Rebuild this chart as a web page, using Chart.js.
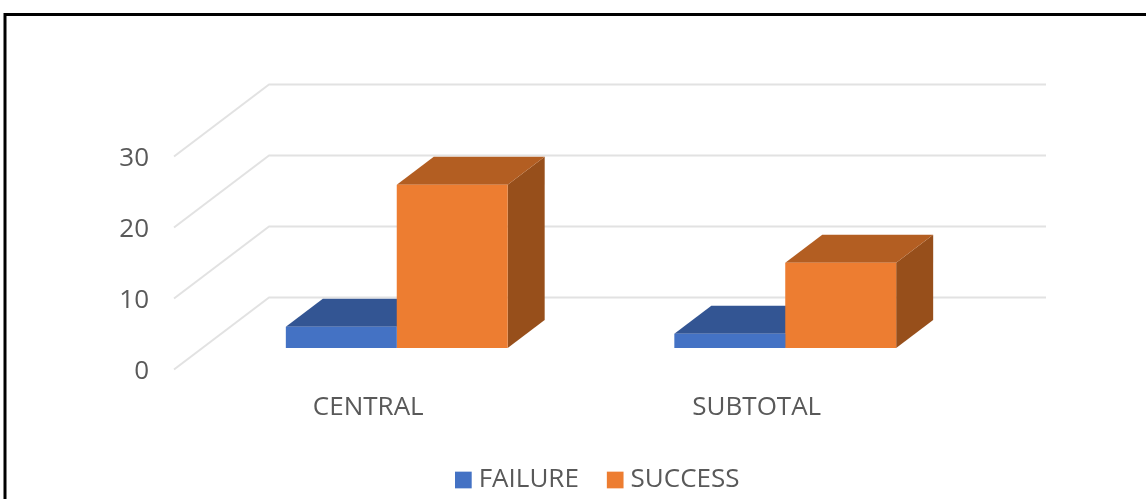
<!DOCTYPE html>
<html>
<head>
<meta charset="utf-8">
<script src="https://cdn.jsdelivr.net/npm/chart.js@4/dist/chart.umd.min.js"></script>
<style>
html,body{margin:0;padding:0;background:#fff;overflow:hidden}
canvas{display:block;filter:blur(0.6px)}
</style>
</head>
<body>
<canvas id="c" width="1146" height="499"></canvas>
<script>
const categories = ["CENTRAL", "SUBTOTAL"];
const failureValues = [3, 2];
const successValues = [23, 12];
const yTicks = [0, 10, 20, 30];

const FONT = "'Open Sans'";
const TEXT = "#595959";
const WALL = { dx: 95, dy: -72 };      // depth of the floor/left wall
const BAR_OFFSET = { dx: 28.5, dy: -21.5 }; // bars stand mid-floor
const BAR_DEPTH = { dx: 37, dy: -28 };
const shades = {
  FAILURE: { top: "#335593", side: "#2a4675" },
  SUCCESS: { top: "#B35E22", side: "#974F1B" }
};

const scene3d = {
  id: "scene3d",
  beforeDraw(chart) {
    const c = chart.ctx;
    c.save();
    c.fillStyle = "#fff";
    c.fillRect(0, 0, chart.width, chart.height);
    c.strokeStyle = "#000";
    c.lineWidth = 3;
    c.beginPath();
    c.moveTo(5, 510);
    c.lineTo(5, 14.5);
    c.lineTo(1160, 14.5);
    c.stroke();
    c.restore();
  },
  beforeDatasetsDraw(chart) {
    const c = chart.ctx;
    const { x: xs, y: ys } = chart.scales;
    c.save();
    c.strokeStyle = "#E2E2E2";
    c.lineWidth = 2;
    c.lineJoin = "round";
    yTicks.forEach(v => {
      const y = ys.getPixelForValue(v);
      c.beginPath();
      c.moveTo(xs.left, y);
      c.lineTo(xs.left + WALL.dx, y + WALL.dy);
      c.lineTo(xs.right + WALL.dx, y + WALL.dy);
      c.stroke();
    });
    c.translate(BAR_OFFSET.dx, BAR_OFFSET.dy);
    chart.data.datasets.forEach((ds, i) => {
      const s = shades[ds.label];
      chart.getDatasetMeta(i).data.forEach(b => {
        const l = b.x - b.width / 2, r = b.x + b.width / 2;
        const t = b.y, bt = b.base;
        c.fillStyle = s.side;
        c.beginPath();
        c.moveTo(r, t); c.lineTo(r + BAR_DEPTH.dx, t + BAR_DEPTH.dy);
        c.lineTo(r + BAR_DEPTH.dx, bt + BAR_DEPTH.dy); c.lineTo(r, bt);
        c.closePath(); c.fill();
        c.fillStyle = s.top;
        c.beginPath();
        c.moveTo(l, t); c.lineTo(l + BAR_DEPTH.dx, t + BAR_DEPTH.dy);
        c.lineTo(r + BAR_DEPTH.dx, t + BAR_DEPTH.dy); c.lineTo(r, t);
        c.closePath(); c.fill();
      });
    });
    // the library's own bars follow, shifted onto the mid-floor plane
  },
  afterDatasetsDraw(chart) {
    chart.ctx.restore();
  },
  afterLayout(chart) {
    const lg = chart.legend;
    const pad = lg.options.labels.padding;
    lg.left = 461 - pad;
    lg.right = 1120;
    lg.top = 467 - pad;
    lg.bottom = lg.top + lg.height;
  }
};

new Chart(document.getElementById("c"), {
  type: "bar",
  plugins: [scene3d],
  data: {
    labels: categories,
    datasets: [
      { label: "FAILURE", data: failureValues, backgroundColor: "#4472C4", borderWidth: 0, clip: false,
        barPercentage: 1, categoryPercentage: 0.571 },
      { label: "SUCCESS", data: successValues, backgroundColor: "#ED7D31", borderWidth: 0, clip: false,
        barPercentage: 1, categoryPercentage: 0.571 }
    ]
  },
  options: {
    responsive: false,
    animation: false,
    layout: { padding: { left: 0, right: 195, top: 156.5, bottom: 0 } },
    plugins: {
      tooltip: { enabled: false },
      legend: {
        position: "bottom",
        align: "start",
        labels: {
          color: TEXT,
          font: { family: FONT, size: 26 },
          boxWidth: 4.7,
          boxHeight: 4.7,
          padding: 34,
          generateLabels(chart) {
            return chart.data.datasets.map((ds, i) => ({
              text: ds.label,
              fillStyle: ds.backgroundColor,
              strokeStyle: ds.backgroundColor,
              lineWidth: 12,
              fontColor: TEXT,
              datasetIndex: i
            }));
          }
        }
      }
    },
    scales: {
      x: {
        grid: { display: false, drawTicks: false },
        border: { display: false },
        ticks: { color: TEXT, font: { family: FONT, size: 26 }, padding: 22, maxRotation: 0 },
        afterFit(s) { s.height = 499 - 369.5 - 70; }
      },
      y: {
        min: 0,
        max: 30,
        grid: { display: false, drawTicks: false },
        border: { display: false },
        ticks: { stepSize: 10, color: TEXT, font: { family: FONT, size: 26 }, padding: 25, labelOffset: 2 },
        afterFit(s) { s.width = 174; }
      }
    }
  }
});
</script>
</body>
</html>
